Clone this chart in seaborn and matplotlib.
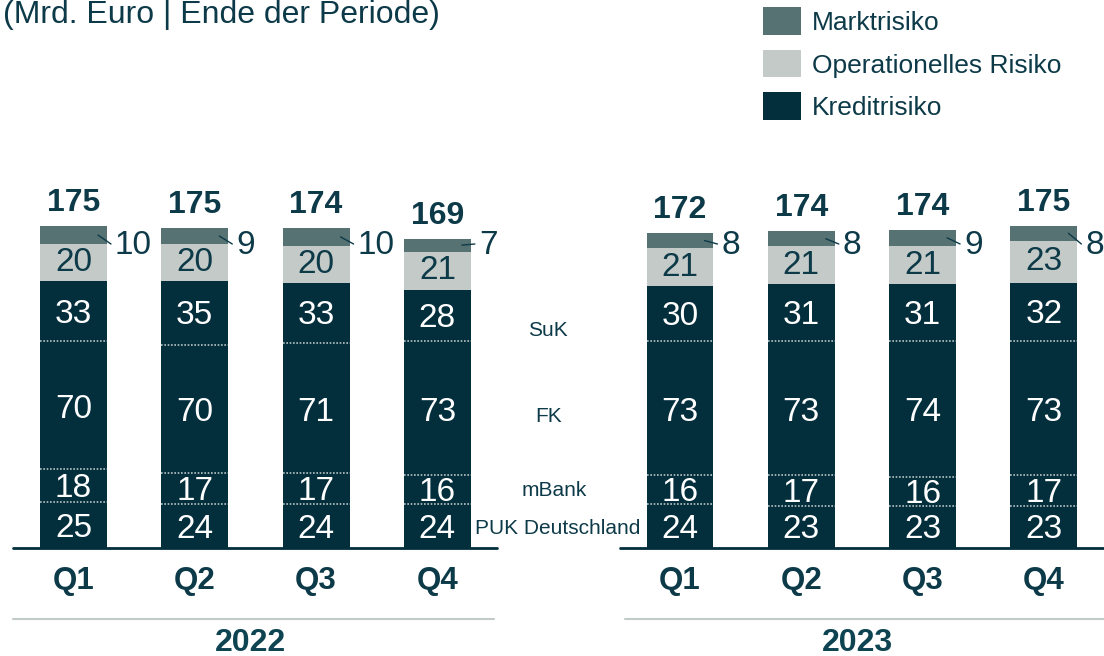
import matplotlib.pyplot as plt
import matplotlib.patches as mpatches
import numpy as np
import pandas as pd
import seaborn as sns

sns.set_style("white")
plt.rcParams['font.family'] = ['Liberation Sans', 'DejaVu Sans']

# Werte (Mrd. Euro), je Quartal 2022 Q1..Q4, 2023 Q1..Q4
quartale = ["Q1", "Q2", "Q3", "Q4", "Q1", "Q2", "Q3", "Q4"]
jahre = ["2022", "2023"]
puk = [25, 24, 24, 24, 24, 23, 23, 23]
mbank = [18, 17, 17, 16, 16, 17, 16, 17]
fk = [70, 70, 71, 73, 73, 73, 74, 73]
suk = [33, 35, 33, 28, 30, 31, 31, 32]
oprisk = [20, 20, 20, 21, 21, 21, 21, 23]
markt = [10, 9, 10, 7, 8, 8, 9, 8]
gesamt = [175, 175, 174, 169, 172, 174, 174, 175]
segmente = ["PUK Deutschland", "mBank", "FK", "SuK"]

C_KREDIT = "#032e3c"
C_OP = "#c4cac8"
C_MARKT = "#567272"
C_TEXT = "#0d3a48"

# Position: Lücke in der Mitte für die Segmentbeschriftung
pos = np.array([0, 1, 2, 3, 5, 6, 7, 8])
PX_X = 121.3   # Pixel pro x-Einheit
PX_Y = 1.83    # Pixel pro Mrd. Euro
BAR_W = 0.552

c_puk = np.array(puk)
c_mbank = c_puk + np.array(mbank)
c_fk = c_mbank + np.array(fk)
c_suk = c_fk + np.array(suk)
c_op = c_suk + np.array(oprisk)
c_markt = c_op + np.array(markt)

df = pd.DataFrame({"pos": pos, "kredit": c_suk, "op": c_op, "markt": c_markt})

fig = plt.figure(figsize=(11.04, 6.56), dpi=100)
ax = fig.add_axes([0, 108 / 656, 1, 548 / 656])

# gestapelte Balken: kumuliert von oben nach unten überlagert
for col, colr in [("markt", C_MARKT), ("op", C_OP), ("kredit", C_KREDIT)]:
    sns.barplot(data=df, x="pos", y=col, native_scale=True, width=BAR_W,
                color=colr, saturation=1, errorbar=None, linewidth=0, ax=ax)

# gepunktete Trennlinien innerhalb Kreditrisiko
for grenze in [c_puk, c_mbank, c_fk]:
    for x, g in zip(pos, grenze):
        ax.plot([x - BAR_W / 2, x + BAR_W / 2], [g, g], ls=(0, (1, 1)),
                color="#b8c4c6", lw=1.2, solid_capstyle="butt")

# Werte in den Segmenten
for lower, vals, col, dy in [(c_puk - np.array(puk), puk, "white", -3),
                             (c_puk, mbank, "white", -3),
                             (c_mbank, fk, "white", -4),
                             (c_fk, suk, "white", -3),
                             (c_suk, oprisk, C_TEXT, 0)]:
    for x, lo, v in zip(pos, lower, vals):
        ax.text(x, lo + v / 2 + dy / PX_Y, str(v), ha="center", va="center",
                fontsize=24, color=col)

# Marktrisiko außerhalb mit Hinweislinie
label_y = (548 - 246) / PX_Y
for x, lo, v in zip(pos, c_op, markt):
    xr = x + BAR_W / 2
    yc = lo + v / 2
    ax.plot([xr - 9 / PX_X, xr + 4 / PX_X], [yc, label_y + 2 / PX_Y],
            color=C_TEXT, lw=1)
    ax.text(xr + 8 / PX_X, label_y, str(v), ha="left", va="center",
            fontsize=24, color=C_TEXT)

# Summen
for x, top, g in zip(pos, c_markt, gesamt):
    ax.text(x, top + 23 / PX_Y, str(g), ha="center", va="center",
            fontsize=23, fontweight="bold", color=C_TEXT)

# Segmentnamen in der Lücke
seg_x = [(557.5 - 73.5) / PX_X, (554 - 73.5) / PX_X, (548.5 - 73.5) / PX_X, (547.5 - 73.5) / PX_X]
seg_y = [(548 - 528) / PX_Y, (548 - 490) / PX_Y, (548 - 417) / PX_Y, (548 - 330) / PX_Y]
for name, x, y in zip(segmente, seg_x, seg_y):
    ax.text(x, y, name, ha="center", va="center", fontsize=15, color=C_TEXT)

# Grundlinien
ax.plot([-0.5, 3.49], [0, 0], color=C_KREDIT, lw=2, clip_on=False)
ax.plot([4.505, 8.6], [0, 0], color=C_KREDIT, lw=2, clip_on=False)

# Quartale
ax.set_xticks(pos, quartale)
ax.tick_params(axis="x", length=0, pad=13, labelsize=22.5, colors=C_TEXT)
for t in ax.get_xticklabels():
    t.set_fontweight("bold")
ax.set_yticks([])
ax.set_xlabel("")
ax.set_ylabel("")

# Jahre mit Trennlinie
sep_y = (548 - 619) / PX_Y
year_y = (548 - 643) / PX_Y
ax.plot([-0.499, 3.467], [sep_y, sep_y], color="#c2cbc9", lw=1.5, clip_on=False)
ax.plot([4.547, 8.6], [sep_y, sep_y], color="#c2cbc9", lw=1.5, clip_on=False)
ax.text(1.455, year_y, jahre[0], ha="center", va="center", fontsize=23,
        fontweight="bold", color="#0e4452", clip_on=False)
ax.text(6.459, year_y, jahre[1], ha="center", va="center", fontsize=23,
        fontweight="bold", color="#0e4452", clip_on=False)

ax.set_xlim(-73.5 / PX_X, (1104 - 73.5) / PX_X)
ax.set_ylim(0, 548 / PX_Y)
sns.despine(ax=ax, left=True, bottom=True)

# Untertitel oben links
fig.text(3 / 1104, 1 - 23 / 656, "(Mrd. Euro | Ende der Periode)", ha="left",
         va="baseline", fontsize=23, color=C_TEXT)

# Legende
for i, (name, colr) in enumerate([("Marktrisiko", C_MARKT),
                                   ("Operationelles Risiko", C_OP),
                                   ("Kreditrisiko", C_KREDIT)]):
    top = 7 + i * 42.5
    fig.add_artist(mpatches.Rectangle((763 / 1104, 1 - (top + 27.5) / 656),
                                      38 / 1104, 27.5 / 656,
                                      transform=fig.transFigure, color=colr, lw=0))
    fig.text(812 / 1104, 1 - (top + 16) / 656, name, ha="left", va="center",
             fontsize=19, color=C_TEXT)

fig.savefig("out.png", dpi=100)
